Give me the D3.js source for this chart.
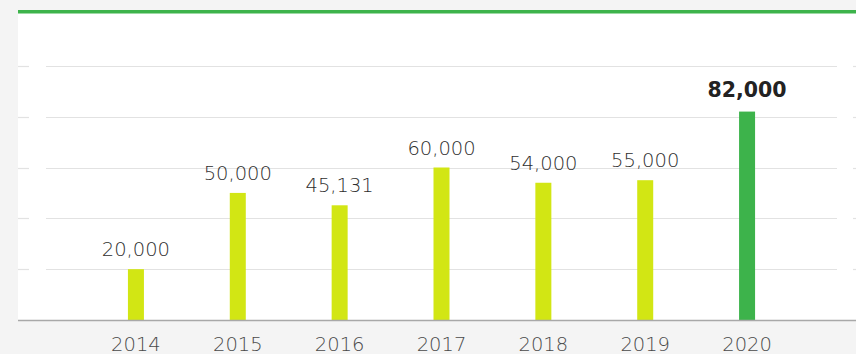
<!DOCTYPE html>
<html>
<head>
<meta charset="utf-8">
<script src="https://cdn.jsdelivr.net/npm/d3@7"></script>
<style>
  html, body { margin: 0; padding: 0; background: #f4f4f4; }
  svg { display: block; }
</style>
</head>
<body>
<svg id="chart" width="856" height="354"></svg>
<script>
// Annual figures, 2014–2020
const years = ["2014", "2015", "2016", "2017", "2018", "2019", "2020"];
const values = [20000, 50000, 45131, 60000, 54000, 55000, 82000];
const highlightYear = "2020";
const gridTicks = [20000, 40000, 60000, 80000, 100000];

const W = 856, H = 354;
const panel = { left: 18, top: 10, right: 856, bottom: 320 };

const svg = d3.select("#chart");

// white plotting panel
svg.append("rect")
  .attr("x", panel.left).attr("y", panel.top)
  .attr("width", panel.right - panel.left).attr("height", panel.bottom - panel.top)
  .attr("fill", "#ffffff");

// green accent rule along the top
svg.append("rect")
  .attr("x", panel.left).attr("y", panel.top)
  .attr("width", panel.right - panel.left).attr("height", 3.5)
  .attr("fill", "#3db34b");

const x = d3.scaleBand().domain(years).range([85, 798]).paddingInner(0.84).paddingOuter(0.42);
const y = d3.scaleLinear().domain([0, 120000]).range([panel.bottom, 15]);

// horizontal gridlines (with short outer ticks)
const grid = svg.append("g");
gridTicks.forEach(t => {
  const yy = Math.round(y(t)) + 0.5;
  grid.append("line").attr("x1", 46).attr("x2", 837).attr("y1", yy).attr("y2", yy)
    .attr("stroke", "#e2e2e2").attr("stroke-width", 1.2);
  grid.append("line").attr("x1", panel.left).attr("x2", 29).attr("y1", yy).attr("y2", yy)
    .attr("stroke", "#e2e2e2").attr("stroke-width", 1.2);
  grid.append("line").attr("x1", 853).attr("x2", 856).attr("y1", yy).attr("y2", yy)
    .attr("stroke", "#e2e2e2").attr("stroke-width", 1.2);
});

// bars
const bw = 16;
svg.append("g").selectAll("rect").data(years).join("rect")
  .attr("x", (d) => x(d) + x.bandwidth() / 2 - bw / 2)
  .attr("width", bw)
  .attr("y", (d, i) => y(values[i]))
  .attr("height", (d, i) => panel.bottom - y(values[i]))
  .attr("fill", d => d === highlightYear ? "#3db34b" : "#d2e614");

// baseline
svg.append("line")
  .attr("x1", panel.left).attr("x2", W)
  .attr("y1", panel.bottom + 0.5).attr("y2", panel.bottom + 0.5)
  .attr("stroke", "#a8a8a8").attr("stroke-width", 1.3);

// value labels
const fmt = d3.format(",");
svg.append("g").selectAll("text").data(years).join("text")
  .attr("x", d => x(d) + x.bandwidth() / 2)
  .attr("y", (d, i) => y(values[i]) - (d === highlightYear ? 15 : 13))
  .attr("text-anchor", "middle")
  .attr("font-family", "'DejaVu Sans', sans-serif")
  .attr("font-size", d => d === highlightYear ? 20.5 : 19.5)
  .attr("font-weight", d => d === highlightYear ? 700 : 200)
  .attr("fill", d => d === highlightYear ? "#222222" : "#2e2e2e")
  .text((d, i) => fmt(values[i]));

// category axis
const xAxis = d3.axisBottom(x).tickSize(0).tickPadding(0);
const gx = svg.append("g").attr("transform", `translate(0, ${panel.bottom})`).call(xAxis);
gx.select(".domain").remove();
gx.selectAll("text")
  .attr("dy", null)
  .attr("y", 31)
  .attr("font-family", "'DejaVu Sans', sans-serif")
  .attr("font-size", 19.5)
  .attr("font-weight", 200)
  .attr("fill", "#4a4a4a");
</script>
</body>
</html>
